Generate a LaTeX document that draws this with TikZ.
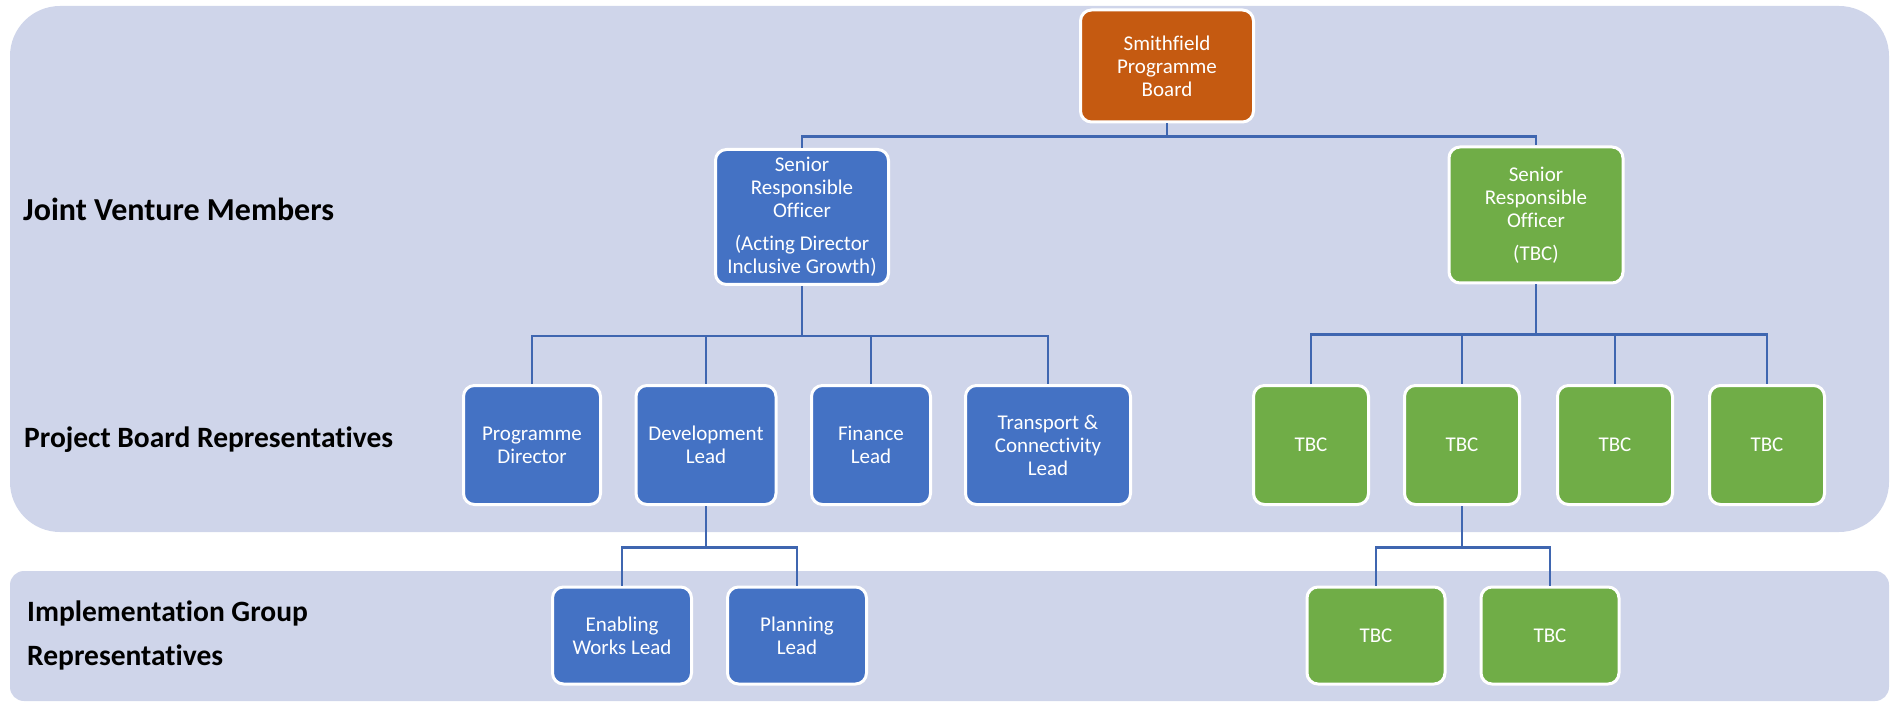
\documentclass[tikz,border=0pt]{standalone}
\usepackage{fontspec}
\setmainfont{Carlito}[Ligatures=NoCommon]
\usetikzlibrary{positioning}
\definecolor{panel}{HTML}{CFD5EA}
\definecolor{jvblue}{HTML}{4472C4}
\definecolor{jvgreen}{HTML}{70AD47}
\definecolor{jvorange}{HTML}{C55A11}
\definecolor{linkblue}{HTML}{3F66B0}

\begin{document}
\begin{tikzpicture}[x=1pt, y=-1pt,
    box/.style={draw=white, line width=3pt, rounded corners=11pt, text=white,
        align=center, inner sep=0pt, font=\fontsize{21}{23}\selectfont},
    bluebox/.style={box, fill=jvblue},
    greenbox/.style={box, fill=jvgreen},
    boardbox/.style={box, fill=jvorange},
    rep/.style={minimum height=119pt},
    impl/.style={minimum height=97pt},
    link/.style={draw=linkblue, line width=2.5pt},
    rowlabel/.style={anchor=west, inner sep=0pt, align=left,
        font=\fontsize{29.5}{44}\selectfont\bfseries}]
    %
    \useasboundingbox (0,0) rectangle (1896,703);
    \fill[panel, rounded corners=50pt] (10,6) rectangle (1889,532);
    \fill[panel, rounded corners=14pt] (10,571) rectangle (1889,701);
    %
    \node[rowlabel, font=\fontsize{32}{38}\selectfont\bfseries] (jvm) at (23,209) {Joint Venture Members};
    \node[rowlabel] (pbr) at (24,440) {Project Board Representatives};
    \node[rowlabel] (igr) at (27,635) {Implementation Group\\Representatives};
    %
    \node[boardbox, minimum width=173pt, minimum height=112pt] (board) at (1167,66) {Smithfield\\Programme\\Board};
    \node[bluebox, minimum width=173pt, minimum height=135pt] (sroL) at (802,217) {Senior\\Responsible\\Officer\\[10pt](Acting Director\\Inclusive Growth)};
    \node[greenbox, minimum width=174pt, minimum height=136pt] (sroR) at (1536,215) {Senior\\Responsible\\Officer\\[10pt](TBC)};
    %
    \node[bluebox, rep, minimum width=137pt] (progdir) at (532,445) {Programme\\Director};
    \node[bluebox, rep, minimum width=140pt, right of=progdir, node distance=174pt] (devlead) {Development\\Lead};
    \node[bluebox, rep, minimum width=119pt, right of=devlead, node distance=165pt] (finlead) {Finance\\Lead};
    \node[bluebox, rep, minimum width=165pt, right of=finlead, node distance=177pt] (translead) {Transport \&\\Connectivity\\Lead};
    %
    \node[greenbox, rep, minimum width=115pt] (tbcA) at (1311,445) {TBC};
    \node[greenbox, rep, minimum width=115pt, right of=tbcA, node distance=151pt] (tbcB) {TBC};
    \node[greenbox, rep, minimum width=115pt, right of=tbcB, node distance=153pt] (tbcC) {TBC};
    \node[greenbox, rep, minimum width=115pt, right of=tbcC, node distance=152pt] (tbcD) {TBC};
    %
    \node[bluebox, impl, minimum width=139pt] (enabling) at (622,635.5) {Enabling\\Works Lead};
    \node[bluebox, impl, minimum width=139pt, right of=enabling, node distance=175pt] (planning) {Planning\\Lead};
    \node[greenbox, impl, minimum width=138pt] (tbcE) at (1376,635.5) {TBC};
    \node[greenbox, impl, minimum width=138pt, right of=tbcE, node distance=174pt] (tbcF) {TBC};
    %
    \draw[link] (board.south) -- ++(0,13) coordinate (topbus);
    \draw[link] (sroL.north) |- (topbus) -| (sroR.north);
    %
    \draw[link] (sroL.south) -- ++(0,50) coordinate (busL);
    \draw[link] (progdir.north) |- (busL) -| (translead.north);
    \foreach \n in {devlead, finlead}
        \draw[link] (busL -| \n.north) -- (\n.north);
    %
    \draw[link] (sroR.south) -- ++(0,50) coordinate (busR);
    \draw[link] (tbcA.north) |- (busR) -| (tbcD.north);
    \foreach \n in {tbcB, tbcC}
        \draw[link] (busR -| \n.north) -- (\n.north);
    %
    \draw[link] (devlead.south) -- ++(0,41.5) coordinate (busD);
    \draw[link] (enabling.north) |- (busD) -| (planning.north);
    \draw[link] (tbcB.south) -- ++(0,41.5) coordinate (busT);
    \draw[link] (tbcE.north) |- (busT) -| (tbcF.north);
\end{tikzpicture}
\end{document}
